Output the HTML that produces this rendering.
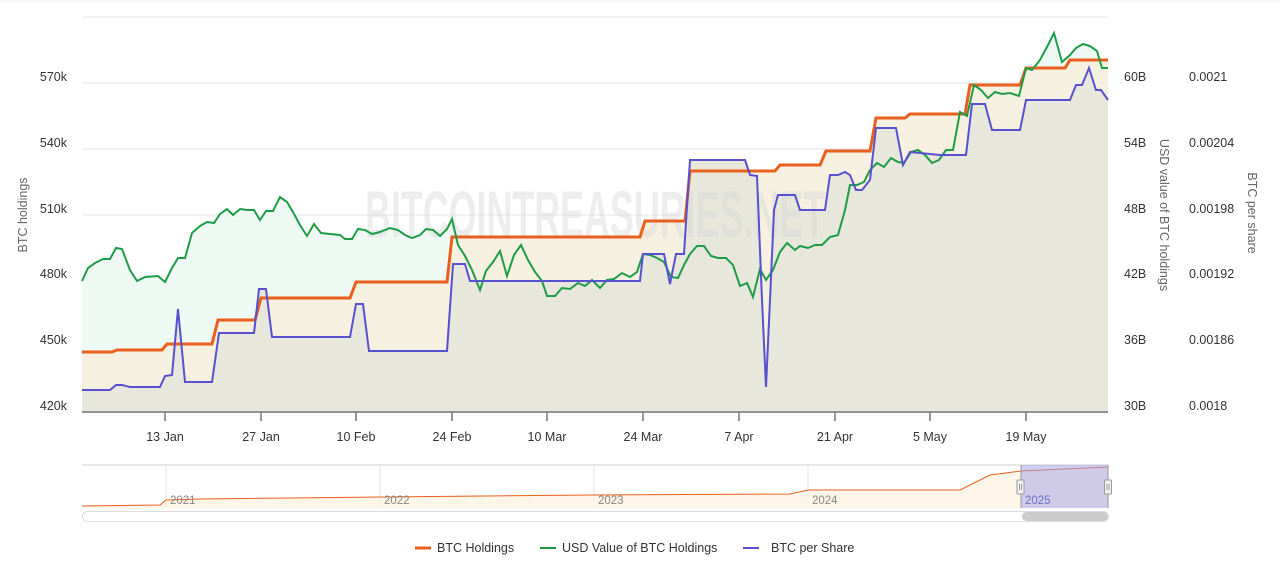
<!DOCTYPE html>
<html><head><meta charset="utf-8"><style>
html,body{margin:0;padding:0;background:#fff;}
svg{display:block;font-family:"Liberation Sans",Arial,sans-serif;}
</style></head><body>
<svg width="1280" height="577" viewBox="0 0 1280 577" xmlns="http://www.w3.org/2000/svg">
<rect width="1280" height="577" fill="#fff"/>
<line x1="0" y1="1" x2="1280" y2="1" stroke="#eee"/>
<g stroke="#e6e6e6" stroke-width="1">
<line x1="82" y1="17" x2="1108" y2="17"/><line x1="82" y1="83" x2="1108" y2="83"/>
<line x1="82" y1="149" x2="1108" y2="149"/><line x1="82" y1="215" x2="1108" y2="215"/>
<line x1="82" y1="281" x2="1108" y2="281"/><line x1="82" y1="347" x2="1108" y2="347"/>
</g>
<polygon fill="#eff9f4" points="82,413 82,281 88,268 95,263 103,259 110,259 116,248 122,249 130,270 137,281 145,277 158,276 165,282 172,268 178,258 185,258 192,233 200,226 207,222 214,223 220,214 227,209 233,215 240,209 247,210 254,210 260,220 266,211 273,211 280,197 287,202 293,212 300,225 307,236 314,224 321,233 330,234 340,235 345,239 352,239 358,229 365,230 372,234 380,232 390,228 398,230 405,235 412,238 420,235 426,229 433,230 440,236 447,229 452,219 458,245 465,256 472,270 480,290 486,271 493,262 500,251 507,276 514,255 521,245 528,260 535,272 542,281 547,296 555,296 562,288 570,289 578,283 585,286 592,280 600,288 607,280 614,279 622,273 630,277 637,272 643,254 650,255 657,258 664,262 671,277 678,278 684,265 690,254 697,246 704,246 711,256 718,258 726,258 733,265 740,286 747,283 753,297 760,269 766,280 773,270 780,252 787,243 795,250 800,246 808,248 815,245 822,245 830,237 838,235 845,210 850,185 857,185 864,182 870,170 877,163 884,167 891,158 898,162 904,163 911,152 918,150 925,155 932,163 939,160 946,150 953,150 960,112 967,116 974,85 981,90 988,98 995,92 1002,94 1010,93 1019,96 1026,68 1032,70 1040,60 1048,45 1054,33 1062,62 1070,55 1076,48 1083,44 1090,46 1097,51 1102,68 1108,68 1108,413"/>
<polygon fill="#f6f0e0" points="82,413 82,352 112,352 117,350 162,350 167,344 212,344 218,320 255,320 261,298 350,298 356,282 447,282 452,237 640,237 645,221 685,221 690,171 775,171 780,165 820,165 826,151 870,151 876,118 905,118 910,114 965,114 970,85 1020,85 1026,68 1065,68 1070,60 1108,60 1108,413"/>
<polygon fill="#e8e7dc" points="82,413 82,390 110,390 116,385 122,385 130,387 160,387 165,376 172,375 178,309 185,382 212,382 219,333 254,333 259,289 266,289 272,337 350,337 356,304 363,304 369,351 447,351 453,264 465,264 470,281 640,281 643,254 664,254 670,284 676,254 684,254 690,160 745,160 750,175 757,176 762,300 766,387 770,300 774,210 778,195 795,195 800,210 825,210 830,175 838,175 845,172 850,175 856,190 862,190 870,180 876,128 896,128 903,165 910,152 940,155 966,155 972,104 985,104 992,130 1020,130 1026,100 1070,100 1076,85 1082,85 1089,68 1096,90 1101,90 1108,100 1108,413"/>
<text x="595" y="237" text-anchor="middle" font-size="66" font-weight="bold" fill="#d8d8d8" fill-opacity="0.45" textLength="460" lengthAdjust="spacingAndGlyphs">BITCOINTREASURIES.NET</text>
<polyline fill="none" stroke="#e8601c" stroke-width="3" points="82,352 112,352 117,350 162,350 167,344 212,344 218,320 255,320 261,298 350,298 356,282 447,282 452,237 640,237 645,221 685,221 690,171 775,171 780,165 820,165 826,151 870,151 876,118 905,118 910,114 965,114 970,85 1020,85 1026,68 1065,68 1070,60 1108,60"/>
<polyline fill="none" stroke="#1e9c48" stroke-width="2" points="82,281 88,268 95,263 103,259 110,259 116,248 122,249 130,270 137,281 145,277 158,276 165,282 172,268 178,258 185,258 192,233 200,226 207,222 214,223 220,214 227,209 233,215 240,209 247,210 254,210 260,220 266,211 273,211 280,197 287,202 293,212 300,225 307,236 314,224 321,233 330,234 340,235 345,239 352,239 358,229 365,230 372,234 380,232 390,228 398,230 405,235 412,238 420,235 426,229 433,230 440,236 447,229 452,219 458,245 465,256 472,270 480,290 486,271 493,262 500,251 507,276 514,255 521,245 528,260 535,272 542,281 547,296 555,296 562,288 570,289 578,283 585,286 592,280 600,288 607,280 614,279 622,273 630,277 637,272 643,254 650,255 657,258 664,262 671,277 678,278 684,265 690,254 697,246 704,246 711,256 718,258 726,258 733,265 740,286 747,283 753,297 760,269 766,280 773,270 780,252 787,243 795,250 800,246 808,248 815,245 822,245 830,237 838,235 845,210 850,185 857,185 864,182 870,170 877,163 884,167 891,158 898,162 904,163 911,152 918,150 925,155 932,163 939,160 946,150 953,150 960,112 967,116 974,85 981,90 988,98 995,92 1002,94 1010,93 1019,96 1026,68 1032,70 1040,60 1048,45 1054,33 1062,62 1070,55 1076,48 1083,44 1090,46 1097,51 1102,68 1108,68"/>
<polyline fill="none" stroke="#5750d0" stroke-width="2" points="82,390 110,390 116,385 122,385 130,387 160,387 165,376 172,375 178,309 185,382 212,382 219,333 254,333 259,289 266,289 272,337 350,337 356,304 363,304 369,351 447,351 453,264 465,264 470,281 640,281 643,254 664,254 670,284 676,254 684,254 690,160 745,160 750,175 757,176 762,300 766,387 770,300 774,210 778,195 795,195 800,210 825,210 830,175 838,175 845,172 850,175 856,190 862,190 870,180 876,128 896,128 903,165 910,152 940,155 966,155 972,104 985,104 992,130 1020,130 1026,100 1070,100 1076,85 1082,85 1089,68 1096,90 1101,90 1108,100"/>
<line x1="82" y1="412" x2="1108" y2="412" stroke="#777" stroke-width="1.5"/>
<g stroke="#777" stroke-width="1.5">
<line x1="165" y1="412" x2="165" y2="421"/><line x1="261" y1="412" x2="261" y2="421"/><line x1="356" y1="412" x2="356" y2="421"/><line x1="452" y1="412" x2="452" y2="421"/><line x1="547" y1="412" x2="547" y2="421"/><line x1="643" y1="412" x2="643" y2="421"/><line x1="739" y1="412" x2="739" y2="421"/><line x1="835" y1="412" x2="835" y2="421"/><line x1="930" y1="412" x2="930" y2="421"/><line x1="1026" y1="412" x2="1026" y2="421"/>
</g>
<g font-size="12.5" fill="#333" text-anchor="middle">
<text x="165" y="441">13 Jan</text><text x="261" y="441">27 Jan</text><text x="356" y="441">10 Feb</text><text x="452" y="441">24 Feb</text><text x="547" y="441">10 Mar</text><text x="643" y="441">24 Mar</text><text x="739" y="441">7 Apr</text><text x="835" y="441">21 Apr</text><text x="930" y="441">5 May</text><text x="1026" y="441">19 May</text>
</g>
<g font-size="12.5" fill="#333" text-anchor="end">
<text x="67" y="81">570k</text><text x="67" y="147">540k</text><text x="67" y="213">510k</text><text x="67" y="278">480k</text><text x="67" y="344">450k</text><text x="67" y="410">420k</text>
</g>
<g font-size="12.5" fill="#333">
<text x="1124" y="81">60B</text><text x="1124" y="147">54B</text><text x="1124" y="213">48B</text><text x="1124" y="278">42B</text><text x="1124" y="344">36B</text><text x="1124" y="410">30B</text>
<text x="1189" y="81">0.0021</text><text x="1189" y="147">0.00204</text><text x="1189" y="213">0.00198</text><text x="1189" y="278">0.00192</text><text x="1189" y="344">0.00186</text><text x="1189" y="410">0.0018</text>
</g>
<g font-size="12.5" fill="#666">
<text transform="translate(27,215) rotate(-90)" text-anchor="middle">BTC holdings</text>
<text transform="translate(1160,215) rotate(90)" text-anchor="middle">USD value of BTC holdings</text>
<text transform="translate(1248,213) rotate(90)" text-anchor="middle">BTC per share</text>
</g>
<!-- navigator -->
<line x1="82" y1="465" x2="1108" y2="465" stroke="#ccc"/>
<g stroke="#e6e6e6"><line x1="166" y1="465" x2="166" y2="508"/><line x1="380" y1="465" x2="380" y2="508"/><line x1="594" y1="465" x2="594" y2="508"/><line x1="808" y1="465" x2="808" y2="508"/></g>
<polygon fill="#fdf2e2" fill-opacity="0.8" points="82,508 82,506 160,505 166,500 200,499 380,497 594,495 790,494 808,490 960,490 990,475 1021,471 1108,467 1108,508"/>
<polyline fill="none" stroke="#e8601c" stroke-width="1" points="82,506 160,505 166,500 200,499 380,497 594,495 790,494 808,490 960,490 990,475 1021,471 1108,467"/>
<rect x="1021" y="465" width="87" height="43" fill="#9f9fe8" fill-opacity="0.5"/>
<g font-size="11.5" fill="#888"><text x="170" y="504">2021</text><text x="384" y="504">2022</text><text x="598" y="504">2023</text><text x="812" y="504">2024</text><text x="1025" y="504" fill="#6f6fc0">2025</text></g>
<line x1="1021" y1="465" x2="1021" y2="508" stroke="#999"/><line x1="1108" y1="465" x2="1108" y2="508" stroke="#999"/>
<rect x="1017" y="480" width="7" height="14" rx="1" fill="#f2f2f2" stroke="#999"/>
<rect x="1104.5" y="480" width="7" height="14" rx="1" fill="#f2f2f2" stroke="#999"/>
<g stroke="#999"><line x1="1019.5" y1="484" x2="1019.5" y2="490"/><line x1="1021.5" y1="484" x2="1021.5" y2="490"/><line x1="1107" y1="484" x2="1107" y2="490"/><line x1="1109" y1="484" x2="1109" y2="490"/></g>
<rect x="82.5" y="511.5" width="1026" height="10" rx="5" fill="#fff" stroke="#ddd"/>
<rect x="1022" y="512" width="86" height="9" rx="4.5" fill="#cccccc"/>
<line x1="415" y1="548" x2="431" y2="548" stroke="#e8601c" stroke-width="3"/>
<text x="437" y="552" font-size="12.5" fill="#333">BTC Holdings</text>
<line x1="540" y1="548" x2="556" y2="548" stroke="#1e9c48" stroke-width="2"/>
<text x="562" y="552" font-size="12.5" fill="#333">USD Value of BTC Holdings</text>
<line x1="743" y1="548" x2="759" y2="548" stroke="#5750d0" stroke-width="2"/>
<text x="771" y="552" font-size="12.5" fill="#333">BTC per Share</text>
</svg>
</body></html>
